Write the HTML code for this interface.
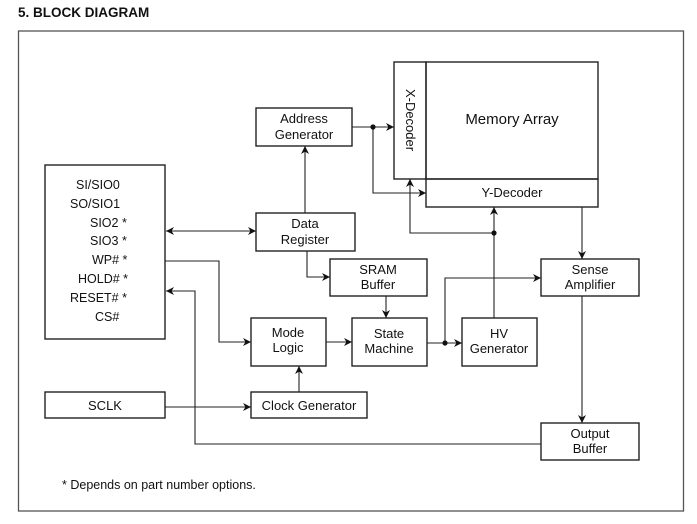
<!DOCTYPE html>
<html><head><meta charset="utf-8"><style>
html,body{margin:0;padding:0;background:#fff;width:697px;height:524px;overflow:hidden}
svg{display:block}
text{font-family:"Liberation Sans",Arial,sans-serif;fill:#111}
</style></head><body>
<svg width="697" height="524" viewBox="0 0 697 524" xmlns="http://www.w3.org/2000/svg">
<defs>
<marker id="a" viewBox="0 0 10 10" refX="10" refY="5" markerWidth="8" markerHeight="8" markerUnits="userSpaceOnUse" orient="auto-start-reverse"><path d="M0,0L10,5L0,10L3,5z" fill="#111"/></marker>
</defs>
<text x="18" y="17" font-size="13.5" font-weight="bold">5. BLOCK DIAGRAM</text>
<rect x="18.5" y="31" width="665" height="480" fill="none" stroke="#555" stroke-width="1.3"/>
<g fill="none" stroke="#222" stroke-width="1.4">
<rect x="45" y="165" width="120" height="174"/>
<rect x="45" y="392" width="120" height="26"/>
<rect x="256" y="108" width="96" height="38"/>
<rect x="256" y="213" width="99" height="38"/>
<rect x="330" y="259" width="97" height="37"/>
<rect x="251" y="318" width="75" height="48"/>
<rect x="352" y="318" width="75" height="48"/>
<rect x="462" y="318" width="75" height="48"/>
<rect x="251" y="392" width="116" height="26"/>
<rect x="541" y="259" width="98" height="37"/>
<rect x="541" y="423" width="98" height="37"/>
<rect x="394" y="62" width="32" height="117"/>
<rect x="426" y="62" width="172" height="117"/>
<rect x="426" y="179" width="172" height="28"/>
</g>
<g fill="none" stroke="#222" stroke-width="1.1">
<path d="M352,127H394" marker-end="url(#a)"/>
<path d="M373,127V193H426" marker-end="url(#a)"/>
<path d="M494,318V207" marker-end="url(#a)"/>
<path d="M494,233H410V179" marker-end="url(#a)"/>
<path d="M582,207V259" marker-end="url(#a)"/>
<path d="M582,296V423" marker-end="url(#a)"/>
<path d="M305,213V146" marker-end="url(#a)"/>
<path d="M166,231H256" marker-start="url(#a)" marker-end="url(#a)"/>
<path d="M307,251V277H330" marker-end="url(#a)"/>
<path d="M386,296V318" marker-end="url(#a)"/>
<path d="M165,261H219V342H251" marker-end="url(#a)"/>
<path d="M541,444H195V291H166" marker-end="url(#a)"/>
<path d="M326,342H352" marker-end="url(#a)"/>
<path d="M427,343H462" marker-end="url(#a)"/>
<path d="M445,343V278H541" marker-end="url(#a)"/>
<path d="M299,392V366" marker-end="url(#a)"/>
<path d="M165,407H251" marker-end="url(#a)"/>
</g>
<g fill="#111"><circle cx="373" cy="127" r="2.6"/><circle cx="494" cy="233" r="2.6"/><circle cx="445" cy="343" r="2.6"/></g>
<g font-size="13" text-anchor="middle">
<text x="304" y="123">Address</text><text x="304" y="139">Generator</text>
<text x="305" y="228">Data</text><text x="305" y="244">Register</text>
<text x="378" y="274">SRAM</text><text x="378" y="289">Buffer</text>
<text x="288" y="337">Mode</text><text x="288" y="352">Logic</text>
<text x="389" y="338">State</text><text x="389" y="353">Machine</text>
<text x="499" y="338">HV</text><text x="499" y="353">Generator</text>
<text x="309" y="410">Clock Generator</text>
<text x="105" y="410">SCLK</text>
<text x="590" y="274">Sense</text><text x="590" y="289">Amplifier</text>
<text x="590" y="438">Output</text><text x="590" y="453">Buffer</text>
<text x="512" y="124" font-size="15">Memory Array</text>
<text x="512" y="197">Y-Decoder</text>
<text x="0" y="0" transform="translate(406,120) rotate(90)">X-Decoder</text>
</g>
<g font-size="12.5">
<text x="76" y="189">SI/SIO0</text>
<text x="70" y="208">SO/SIO1</text>
<text x="90" y="227">SIO2 *</text>
<text x="90" y="245">SIO3 *</text>
<text x="92" y="264">WP# *</text>
<text x="78" y="283">HOLD# *</text>
<text x="70" y="302">RESET# *</text>
<text x="95" y="321">CS#</text>
<text x="62" y="489">* Depends on part number options.</text>
</g>
</svg>
</body></html>
